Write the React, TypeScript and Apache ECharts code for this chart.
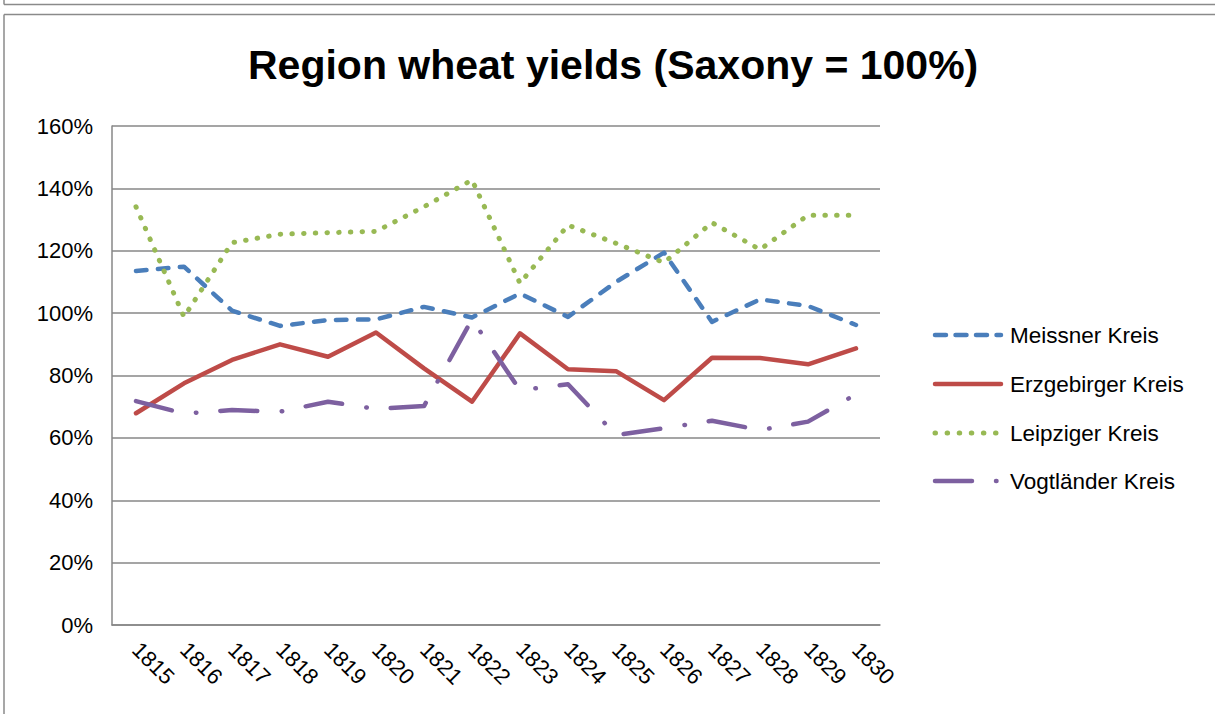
import React, { useEffect, useRef } from "react";
import * as echarts from "echarts";

const years = ["1815","1816","1817","1818","1819","1820","1821","1822","1823","1824","1825","1826","1827","1828","1829","1830"];
const meissner = [113.5, 114.9, 100.8, 95.9, 97.8, 98.0, 102.0, 98.6, 106.3, 98.8, 110.0, 119.4, 97.2, 104.4, 102.3, 96.2];
const erzgebirger = [67.9, 77.5, 85.0, 90.0, 86.0, 93.8, 82.3, 71.6, 93.5, 82.0, 81.4, 72.1, 85.7, 85.6, 83.6, 88.7];
const leipziger = [134.1, 98.8, 122.6, 125.3, 125.8, 126.2, 134.1, 142.7, 109.6, 128.2, 122.4, 116.2, 129.0, 120.4, 131.4, 131.4];
const vogtlaender = [71.8, 67.8, 68.9, 68.4, 71.6, 69.3, 70.2, 98.0, 75.3, 77.2, 60.9, 63.1, 65.5, 62.5, 65.2, 74.0];
const seriesNames = ["Meissner Kreis", "Erzgebirger Kreis", "Leipziger Kreis", "Vogtländer Kreis"];
const seriesColors = ["#4A7EBB", "#BE4B48", "#98B954", "#7D60A0"];
const yMin = 0;
const yMax = 160;
const yStep = 20;

const FONT = "'Liberation Sans', Arial, sans-serif";

export default function App() {
  const ref = useRef<HTMLDivElement>(null);
  useEffect(() => {
    if (!ref.current) return;
    const chart = echarts.init(ref.current, null, { renderer: "svg" });
    const dashes: any[] = [[10.5, 11.5], null, [0.5, 11.2], [37, 24.5, 0.5, 24]];
    const widths = [4.5, 4.5, 5, 4.5];
    const legendDashes: any[] = [[11, 9.5], null, [0.5, 11.6], [37, 24, 0.5, 24]];
    const legendY = [335, 384, 433, 481];
    const mk = (i: number, data: number[]) => ({
      name: seriesNames[i],
      type: "line",
      data,
      symbol: "none",
      smooth: false,
      lineStyle: { color: seriesColors[i], width: widths[i], type: dashes[i] || "solid", cap: "round", join: "round" },
      itemStyle: { color: seriesColors[i] },
    });
    const legendGraphics: any[] = [];
    seriesNames.forEach((n, i) => {
      legendGraphics.push({
        type: "line",
        shape: { x1: 935, y1: legendY[i], x2: 1001, y2: legendY[i] },
        style: {
          stroke: seriesColors[i],
          lineWidth: widths[i],
          lineCap: "round",
          lineDash: legendDashes[i] || null,
        },
      });
      legendGraphics.push({
        type: "text",
        x: 1010,
        y: legendY[i],
        style: {
          text: n,
          font: `22.5px ${FONT}`,
          fill: "#000",
          verticalAlign: "middle",
          align: "left",
        },
      });
    });
    chart.setOption({
      animation: false,
      backgroundColor: "#ffffff",
      title: {
        text: "Region wheat yields (Saxony = 100%)",
        left: 243,
        top: 39,
        textStyle: { fontFamily: FONT, fontSize: 41, fontWeight: "bold", color: "#000" },
      },
      grid: { left: 112, top: 126, right: 335, bottom: 89, containLabel: false },
      xAxis: {
        type: "category",
        data: years,
        boundaryGap: true,
        axisLine: { lineStyle: { color: "#878787", width: 1.5 } },
        axisTick: { show: false },
        axisLabel: { rotate: -45, margin: 21, fontFamily: FONT, fontSize: 22, color: "#000", interval: 0 },
      },
      yAxis: {
        type: "value",
        min: yMin,
        max: yMax,
        interval: yStep,
        axisLine: { show: true, lineStyle: { color: "#878787", width: 1.5 } },
        axisTick: { show: false },
        splitLine: { lineStyle: { color: "#878787", width: 1.5 } },
        axisLabel: { formatter: "{value}%", margin: 19, fontFamily: FONT, fontSize: 22, color: "#000" },
      },
      graphic: [
        { type: "line", shape: { x1: 4, y1: 14.5, x2: 1215, y2: 14.5 }, style: { stroke: "#8a8a8a", lineWidth: 1.5 } },
        { type: "line", shape: { x1: 4, y1: 14.5, x2: 4, y2: 714 }, style: { stroke: "#8a8a8a", lineWidth: 1.5 } },
        { type: "line", shape: { x1: 4, y1: 4.5, x2: 1215, y2: 4.5 }, style: { stroke: "#8a8a8a", lineWidth: 1.5 } },
        { type: "line", shape: { x1: 4, y1: 0, x2: 4, y2: 4.5 }, style: { stroke: "#8a8a8a", lineWidth: 1.5 } },
        ...legendGraphics,
      ],
      series: [
        mk(0, meissner),
        mk(1, erzgebirger),
        mk(2, leipziger),
        mk(3, vogtlaender),
      ],
    });
    return () => chart.dispose();
  }, []);
  return (
    <div
      ref={ref}
      style={{ position: "fixed", left: 0, top: 0, width: 1215, height: 714, background: "#fff" }}
    />
  );
}
